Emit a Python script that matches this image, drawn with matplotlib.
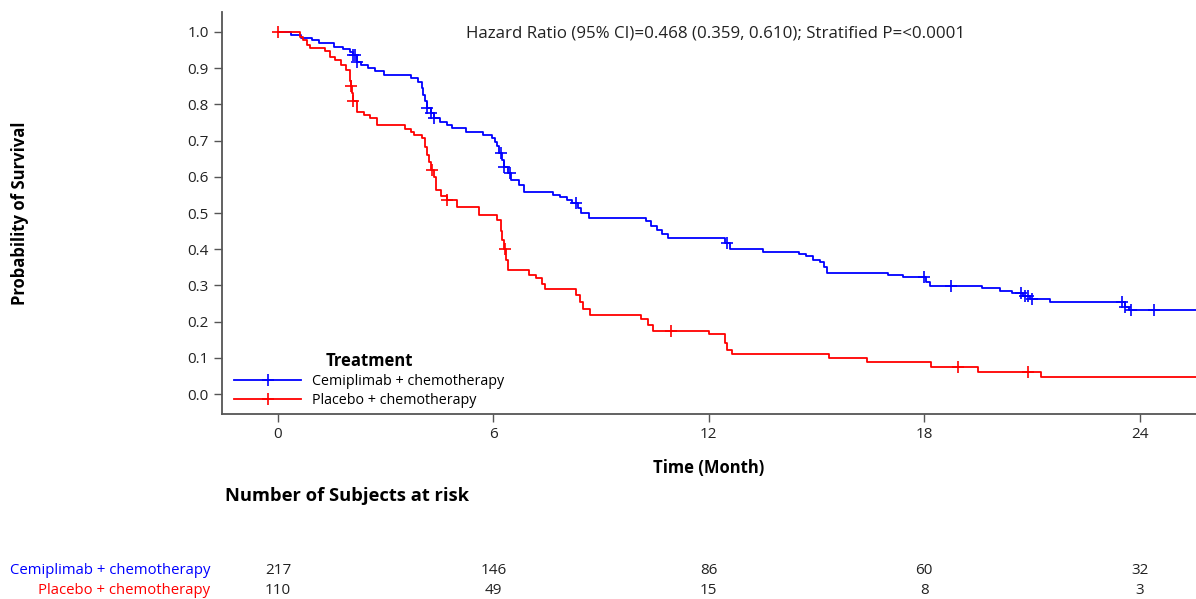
import numpy as np
import matplotlib
matplotlib.use('Agg')
import matplotlib.pyplot as plt
from matplotlib.transforms import blended_transform_factory

plt.rcParams['font.family'] = ['Open Sans', 'DejaVu Sans']

# Kaplan-Meier step data: time (months) of each drop and survival after it
cemi_t = [0, 0.35, 0.65, 0.95, 1.15, 1.55, 1.8, 2.0, 2.1, 2.2, 2.3, 2.5, 2.7, 2.95,
          3.7, 3.9, 4.0, 4.05, 4.1, 4.15, 4.25, 4.35, 4.5, 4.7, 4.85, 5.25, 5.7, 5.95,
          6.05, 6.1, 6.15, 6.25, 6.3, 6.4, 6.5, 6.7, 6.85, 7.65, 7.85, 8.05, 8.2, 8.35,
          8.45, 8.65, 10.25, 10.4, 10.55, 10.7, 10.85, 12.45, 12.6, 13.5, 14.5, 14.7,
          14.9, 15.1, 15.2, 15.3, 17.0, 17.4, 18.05, 18.15, 19.6, 20.1, 20.45, 20.75,
          20.95, 21.5, 23.6, 23.7]
cemi_s = [1.0, 0.991, 0.982, 0.977, 0.968, 0.959, 0.954, 0.945, 0.936, 0.918, 0.909,
          0.900, 0.891, 0.882, 0.872, 0.863, 0.845, 0.826, 0.808, 0.790, 0.776, 0.762,
          0.752, 0.743, 0.734, 0.725, 0.716, 0.706, 0.697, 0.684, 0.665, 0.647, 0.628,
          0.610, 0.590, 0.576, 0.559, 0.550, 0.545, 0.537, 0.527, 0.513, 0.499, 0.487,
          0.478, 0.464, 0.452, 0.443, 0.430, 0.418, 0.400, 0.393, 0.387, 0.380, 0.371,
          0.365, 0.350, 0.333, 0.329, 0.322, 0.310, 0.298, 0.292, 0.285, 0.278, 0.270,
          0.262, 0.253, 0.240, 0.232]
cemi_cens = [2.1, 2.15, 2.2, 4.15, 4.25, 4.35, 6.2, 6.3, 6.45, 8.3, 12.5, 18.0, 18.75,
             20.7, 20.8, 20.9, 21.0, 23.5, 23.6, 23.75, 24.4]

plac_t = [0, 0.6, 0.7, 0.8, 0.9, 1.3, 1.45, 1.6, 1.75, 1.9, 2.0, 2.02, 2.05, 2.08, 2.2,
          2.4, 2.55, 2.75, 3.55, 3.7, 3.8, 4.0, 4.1, 4.15, 4.2, 4.25, 4.35, 4.4, 4.55,
          4.7, 5.0, 5.6, 6.1, 6.2, 6.25, 6.3, 6.35, 6.4, 7.0, 7.2, 7.35, 7.45, 8.3, 8.4,
          8.5, 8.7, 10.1, 10.3, 10.45, 12.0, 12.45, 12.5, 12.65, 15.35, 16.4, 18.2,
          19.5, 21.25]
plac_s = [1.0, 0.987, 0.978, 0.964, 0.955, 0.946, 0.932, 0.923, 0.909, 0.895, 0.864,
          0.850, 0.830, 0.810, 0.780, 0.771, 0.762, 0.743, 0.733, 0.724, 0.715, 0.706,
          0.683, 0.660, 0.640, 0.620, 0.600, 0.564, 0.546, 0.536, 0.517, 0.494, 0.480,
          0.450, 0.425, 0.400, 0.370, 0.343, 0.330, 0.320, 0.305, 0.290, 0.275, 0.255,
          0.235, 0.218, 0.208, 0.190, 0.175, 0.165, 0.140, 0.122, 0.110, 0.099, 0.088,
          0.075, 0.062, 0.046]
plac_cens = [0, 2.03, 2.1, 4.3, 4.72, 6.32, 10.95, 18.95, 20.9]

t_end = 25.8

risk_times = [0, 6, 12, 18, 24]
cemi_risk = [217, 146, 86, 60, 32]
plac_risk = [110, 49, 15, 8, 3]

arms = ['Cemiplimab + chemotherapy', 'Placebo + chemotherapy']
colors = ['#0000FF', '#FF0000']

fig = plt.figure(figsize=(11.96, 5.99), dpi=100)
ax = fig.add_axes([0.1856, 0.3088, 0.8144, 0.6712])


def km_curve(times, surv, cens, color, label):
    t = np.append(times, t_end)
    s = np.append(surv, surv[-1])
    ax.step(t, s, where='post', color=color, lw=1.3, label=label)
    idx = np.searchsorted(times, cens, side='right') - 1
    ax.plot(cens, np.asarray(surv)[idx], ls='none', marker='+', color=color,
            ms=9, mew=1.2)


km_curve(cemi_t, cemi_s, cemi_cens, colors[0], arms[0])
km_curve(plac_t, plac_s, plac_cens, colors[1], arms[1])

ax.set_xlim(-1.56, 25.57)
ax.set_ylim(-0.055, 1.055)
ax.set_xticks(risk_times)
ax.set_yticks(np.arange(0, 1.01, 0.1))
ax.yaxis.set_major_formatter(matplotlib.ticker.FormatStrFormatter('%.1f'))
for side in ['top', 'right']:
    ax.spines[side].set_visible(False)
for side in ['left', 'bottom']:
    ax.spines[side].set_color('#555555')
    ax.spines[side].set_linewidth(1.3)
ax.tick_params(direction='out', length=6, width=1, color='#555555',
               labelsize=11, labelcolor='#222222')

ax.set_xlabel('Time (Month)', fontsize=12, fontweight='bold', labelpad=12)
ax.set_ylabel('Probability of Survival', fontsize=12, fontweight='bold')
ax.yaxis.set_label_coords(-0.198, 0.5)

ax.text(12.2, 0.995, 'Hazard Ratio (95% CI)=0.468 (0.359, 0.610); Stratified P=<0.0001',
        ha='center', va='center', fontsize=12.2, color='#222222')

handles = [matplotlib.lines.Line2D([], [], color=c, lw=1.3, marker='+', ms=9, mew=1.2)
           for c in colors]
leg = ax.legend(handles, arms, title='Treatment', loc='lower left',
                bbox_to_anchor=(0.006, 0.0), frameon=False, fontsize=10.3,
                title_fontproperties={'weight': 'bold', 'size': 12},
                handlelength=4.7, handletextpad=0.75, labelspacing=0.25,
                borderaxespad=0.25, borderpad=0.2)

# number at risk table under the axes
tr = blended_transform_factory(ax.transData, fig.transFigure)
fig.text(225 / 1196, 1 - 496 / 599, 'Number of Subjects at risk', fontsize=13.2,
         fontweight='bold', va='center', ha='left')
for row, (counts, color, name) in enumerate(zip([cemi_risk, plac_risk], colors, arms)):
    y = 1 - (570 + 20 * row) / 599
    fig.text(210 / 1196, y, name, color=color, fontsize=10.7, ha='right', va='center')
    for t, n in zip(risk_times, counts):
        ax.text(t, y, str(n), transform=tr, ha='center', va='center', fontsize=11,
                color='#222222', clip_on=False)

fig.savefig('out.png', dpi=100)
